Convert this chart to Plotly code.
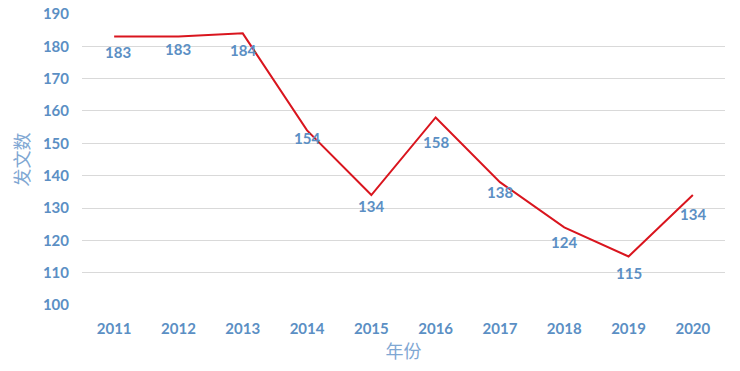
import plotly.graph_objects as go

years = ["2011", "2012", "2013", "2014", "2015", "2016", "2017", "2018", "2019", "2020"]
counts = [183, 183, 184, 154, 134, 158, 138, 124, 115, 134]
y_ticks = [100, 110, 120, 130, 140, 150, 160, 170, 180, 190]

# label placement (style): pixel offsets below each point
label_dy = [15, 12, 17, 8, 11, 25, 10, 15, 16, 19]
label_dx = [4, 0, 0, 0, 0, 0, 0, 0, 0, 0]

blue = "#5b8fc4"
fig = go.Figure()
fig.add_trace(go.Scatter(
    x=years, y=counts, mode="lines",
    line=dict(color="#d9151e", width=2),
    hoverinfo="skip",
))
for i, (v, dy, dx) in enumerate(zip(counts, label_dy, label_dx)):
    fig.add_annotation(x=i, y=v, text=str(v), showarrow=False, yanchor="middle", xanchor="center",
                       yshift=-dy, xshift=dx,
                       font=dict(family="Lato", size=15, color=blue, weight="bold"))
fig.update_layout(
    width=740, height=371, paper_bgcolor="white", plot_bgcolor="white",
    margin=dict(l=82, r=15, t=13, b=65),
    showlegend=False,
    xaxis=dict(type="category", range=[-0.5, 9.5], showgrid=False, showline=False, zeroline=False,
               ticks="", ticklabelstandoff=12, automargin=False,
               tickfont=dict(family="Lato", size=15, color=blue, weight="bold"),
               title=dict(text="年份", font=dict(family="Noto Sans CJK SC", size=18, color="#7fa7d3"), standoff=6)),
    yaxis=dict(range=[99.7, 190.3], tickvals=y_ticks, showgrid=True, gridcolor="#d9d9d9", gridwidth=1,
               zeroline=False, showline=False, ticks="", ticklabelstandoff=12, automargin=False,
               tickfont=dict(family="Lato", size=15, color=blue, weight="bold"),
               title=dict(text="发文数", font=dict(family="Noto Sans CJK SC", size=18, color="#7fa7d3"), standoff=8)),
)
fig.write_html("out.html", config={"displayModeBar": False},
               post_script="document.body.style.margin='0';")
